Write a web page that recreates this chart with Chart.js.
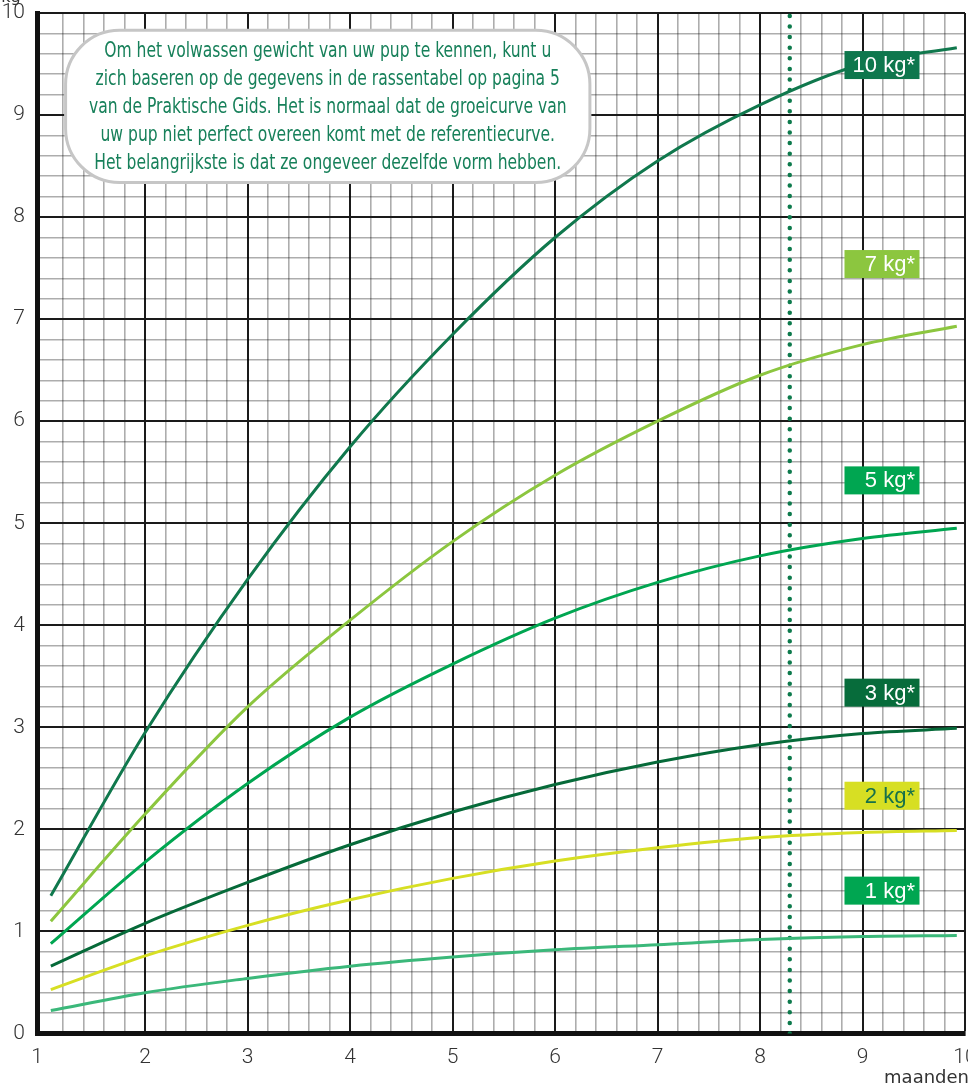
<!DOCTYPE html>
<html>
<head>
<meta charset="utf-8">
<script src="https://cdn.jsdelivr.net/npm/chart.js@4.4.1/dist/chart.umd.min.js"></script>
<style>
    html, body { margin: 0; padding: 0; background: #fff; }
    #wrap { width: 968px; height: 1088px; position: relative; }
</style>
</head>
<body>
<div id="wrap"><canvas id="growthChart"></canvas></div>
<script>
// leeftijd in maanden
const MONTHS = [1.08, 2, 3, 4, 5, 6, 7, 8, 9, 9.92];

// gewicht in kg per referentiecurve
const CURVE_10 = [1.35, 2.95, 4.45, 5.75, 6.85, 7.80, 8.55, 9.10, 9.50, 9.66];
const CURVE_7 = [1.10, 2.15, 3.20, 4.05, 4.82, 5.47, 6.00, 6.45, 6.75, 6.93];
const CURVE_5 = [0.88, 1.68, 2.45, 3.10, 3.62, 4.07, 4.42, 4.68, 4.85, 4.95];
const CURVE_3 = [0.66, 1.08, 1.48, 1.85, 2.17, 2.44, 2.66, 2.83, 2.94, 2.99];
const CURVE_2 = [0.43, 0.76, 1.06, 1.31, 1.52, 1.69, 1.82, 1.92, 1.97, 1.99];
const CURVE_1 = [0.225, 0.40, 0.54, 0.66, 0.75, 0.82, 0.87, 0.92, 0.95, 0.96];

const SERIES_NAMES = ['10 kg*', '7 kg*', '5 kg*', '3 kg*', '2 kg*', '1 kg*'];
const LABEL_LEVELS = [9.49, 7.54, 5.42, 3.34, 2.33, 1.40];
const LABEL_MONTH = 9.19;
const MARKER_MONTH = 8.29;

// de as begint iets voor maand 1, maar draagt het label "1"
const X_MIN = 0.945;
const X_MAX = 10;
const Y_TICKS = [0, 1, 2, 3, 4, 5, 6, 7, 8, 9, 10];

const NOTE_LINES = [
    'Om het volwassen gewicht van uw pup te kennen, kunt u',
    'zich baseren op de gegevens in de rassentabel op pagina 5',
    'van de Praktische Gids. Het is normaal dat de groeicurve van',
    'uw pup niet perfect overeen komt met de referentiecurve.',
    'Het belangrijkste is dat ze ongeveer dezelfde vorm hebben.'
];

const LINE_COLORS = ['#10784d', '#8cc63f', '#00a651', '#066a39', '#d7df23', '#3bb87a'];
const BOX_COLORS = ['#0e774d', '#8cc63f', '#00a651', '#076c3b', '#d7df23', '#00a651'];
const BOX_TEXT = ['#fff', '#fff', '#fff', '#fff', '#16704a', '#fff'];

const curves = [CURVE_10, CURVE_7, CURVE_5, CURVE_3, CURVE_2, CURVE_1];

function isMajor(v) {
    return Math.abs(v - Math.round(v)) < 1e-6;
}

const datasets = curves.map((values, i) => ({
    label: SERIES_NAMES[i],
    data: MONTHS.map((m, j) => ({ x: m, y: values[j] })),
    borderColor: LINE_COLORS[i],
    borderWidth: 3,
    pointRadius: 0,
    cubicInterpolationMode: 'monotone',
    fill: false
}));

datasets.push({
    label: 'marker',
    data: [{ x: MARKER_MONTH, y: 0 }, { x: MARKER_MONTH, y: 10 }],
    borderColor: '#0d7a4c',
    borderWidth: 4.5,
    borderDash: [0, 10.6],
    borderCapStyle: 'round',
    pointRadius: 0
});

const overlay = {
    id: 'overlay',
    beforeDatasetsDraw(chart) {
        const { ctx, scales: { x, y } } = chart;
        const left = x.getPixelForValue(1.224), right = x.getPixelForValue(6.34);
        const top = y.getPixelForValue(9.83), bottom = y.getPixelForValue(8.34);
        ctx.save();
        ctx.beginPath();
        ctx.roundRect(left, top, right - left, bottom - top, 54);
        ctx.fillStyle = '#fff';
        ctx.fill();
        ctx.lineWidth = 3;
        ctx.strokeStyle = '#c6c6c6';
        ctx.stroke();

        ctx.font = '22px "Liberation Sans Narrow", "DejaVu Sans Condensed", "Roboto", sans-serif';
        ctx.fillStyle = '#17805a';
        ctx.textAlign = 'center';
        ctx.textBaseline = 'middle';
        const cx = (left + right) / 2;
        const scale = 447 / ctx.measureText(NOTE_LINES[0]).width;
        NOTE_LINES.forEach((line, i) => {
            ctx.save();
            ctx.translate(cx, top + 21 + i * 28);
            ctx.scale(scale, 1);
            ctx.fillText(line, 0, 0);
            ctx.restore();
        });
        ctx.restore();
    },
    afterDatasetsDraw(chart) {
        const { ctx, scales: { x, y } } = chart;
        ctx.save();
        ctx.font = '22px "Liberation Sans", Arial, sans-serif';
        ctx.textAlign = 'right';
        ctx.textBaseline = 'middle';
        SERIES_NAMES.forEach((name, i) => {
            const cx = x.getPixelForValue(LABEL_MONTH);
            const cy = y.getPixelForValue(LABEL_LEVELS[i]);
            ctx.fillStyle = BOX_COLORS[i];
            ctx.fillRect(cx - 37.5, cy - 14, 75, 28);
            ctx.fillStyle = BOX_TEXT[i];
            ctx.fillText(name, cx + 33, cy + 1);
        });
        ctx.restore();
    },
    afterDraw(chart) {
        const { ctx } = chart;
        ctx.save();
        ctx.fillStyle = '#333';
        ctx.font = '18px "DejaVu Sans", sans-serif';
        ctx.textAlign = 'right';
        ctx.textBaseline = 'alphabetic';
        ctx.fillText('maanden', chart.width + 1, 1083);
        ctx.textAlign = 'center';
        ctx.font = '16px "DejaVu Sans", sans-serif';
        ctx.fillText('kg', 11, 2);
        ctx.restore();
    }
};

const tickFont = { family: 'Roboto, "DejaVu Sans", sans-serif', size: 21, weight: 300 };

const gridStyle = {
    drawTicks: false,
    color: c => isMajor(c.tick.value) ? '#1a1a1a' : 'rgba(0,0,0,0.32)',
    lineWidth: c => isMajor(c.tick.value) ? 2 : 1.6
};

const ctx = document.getElementById('growthChart').getContext('2d');
const growthChart = new Chart(ctx, {
    type: 'line',
    data: { datasets },
    options: {
        responsive: true,
        maintainAspectRatio: false,
        animation: false,
        layout: { padding: 0 },
        plugins: { legend: { display: false }, tooltip: { enabled: false } },
        scales: {
            x: {
                type: 'linear',
                min: X_MIN,
                max: X_MAX,
                afterBuildTicks: scale => {
                    // geen aparte lijn op maand 1: de as zelf staat daar
                    scale.ticks = scale.ticks.filter(t => t.value === X_MIN || Math.abs(t.value - 1) > 1e-6);
                },
                afterFit: scale => {
                    scale.height = 54.5;
                    scale.paddingLeft = 0;
                    scale.paddingRight = 3;
                },
                ticks: {
                    stepSize: 0.2,
                    autoSkip: false,
                    maxRotation: 0,
                    padding: 12,
                    color: '#333',
                    font: tickFont,
                    callback: (v, i) => {
                        if (i === 0) return '1';
                        return isMajor(v) ? String(Math.round(v)) : '';
                    }
                },
                grid: gridStyle,
                border: { display: true, color: '#111', width: 5 }
            },
            y: {
                type: 'linear',
                min: 0,
                max: 10,
                afterFit: scale => {
                    scale.width = 37;
                    scale.paddingTop = 13;
                    scale.paddingBottom = 0;
                },
                ticks: {
                    stepSize: 0.2,
                    autoSkip: false,
                    padding: 12,
                    color: '#333',
                    font: tickFont,
                    callback: v => (isMajor(v) && Y_TICKS.includes(Math.round(v))) ? String(Math.round(v)) : ''
                },
                grid: gridStyle,
                border: { display: true, color: '#111', width: 5 }
            }
        }
    },
    plugins: [overlay]
});
</script>
</body>
</html>
